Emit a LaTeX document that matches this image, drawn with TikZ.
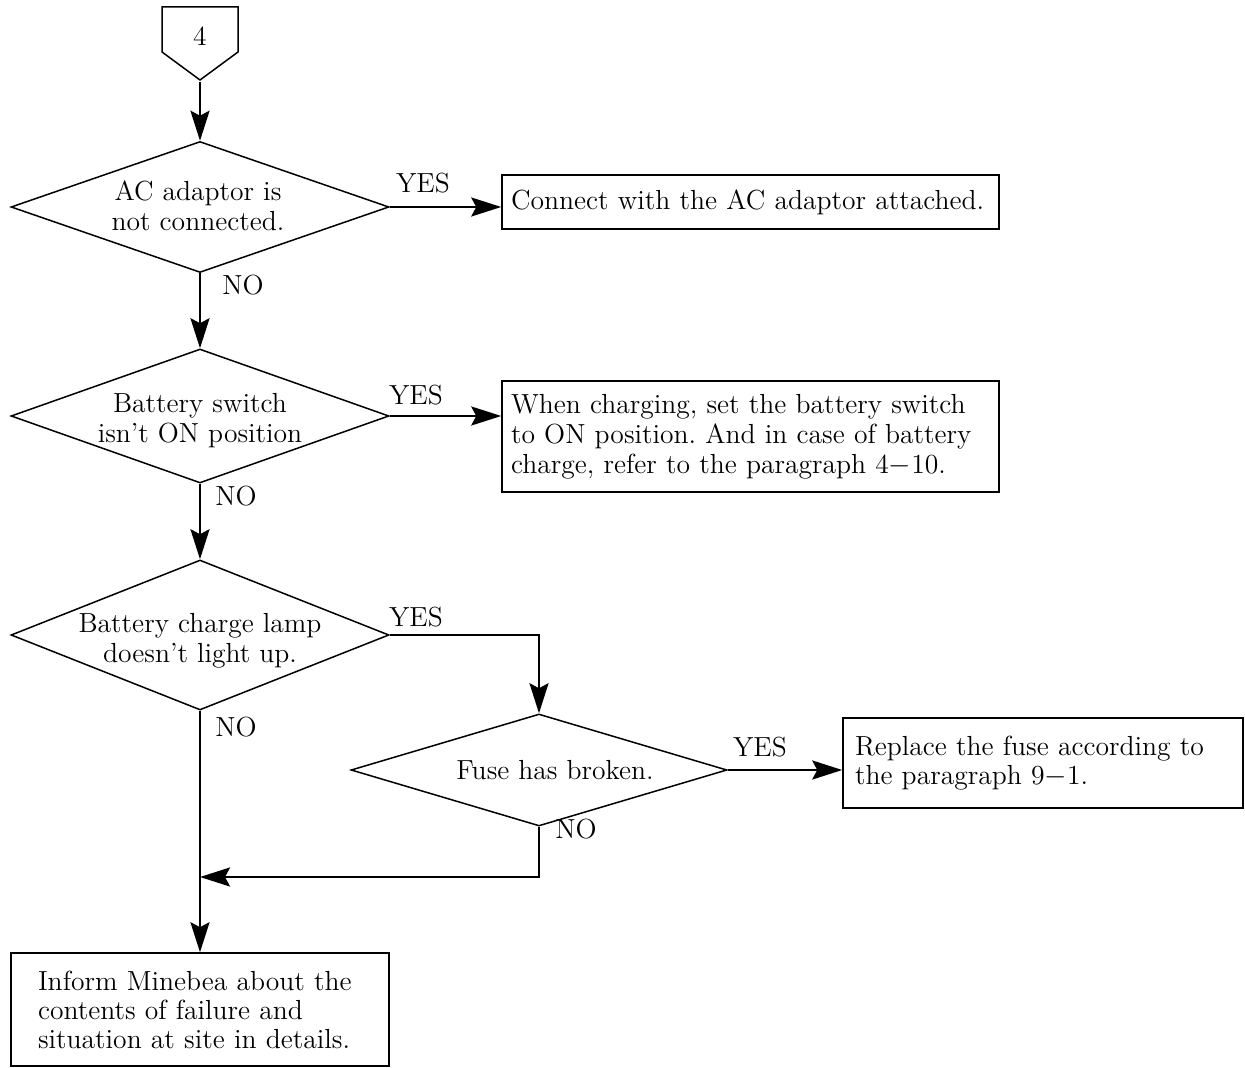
\documentclass[tikz,border=0pt]{standalone}
\usetikzlibrary{shapes.geometric,arrows.meta}
\begin{document}
\frenchspacing
\begin{tikzpicture}[x=0.5pt,y=-0.5pt,
  font=\fontsize{13.8}{15}\selectfont,
  dia/.style={diamond, draw, line width=0.75pt, inner sep=0pt},
  box/.style={rectangle, draw, line width=0.75pt, inner ysep=0pt, align=left},
  arr/.style={line width=1.3pt, -{Stealth[length=15pt,width=9.5pt,inset=2.5pt]}},
  lbl/.style={inner sep=0pt}]
\useasboundingbox (0,0) rectangle (1245,1068);
% off-page connector
\draw[line width=0.75pt] (162,7) -- (238,7) -- (238,52) -- (200,80) -- (162,52) -- cycle;
\node[lbl] (n4) at (200,36) {4};
\coordinate (p4tip) at (200,82);
% decisions
\node[dia, minimum width=189pt, minimum height=65.5pt] (d1) at (200,207) {};
\node[align=center, inner sep=0pt] at (198,206) {AC adaptor is\\not connected.};
\node[dia, minimum width=189pt, minimum height=67pt] (d2) at (200,416) {};
\node[align=center, inner sep=0pt] at (200,421) {Battery switch\\isn't ON position};
\node[dia, minimum width=189pt, minimum height=75pt] (d3) at (200,635) {};
\node[align=center, inner sep=0pt] at (200,641) {Battery charge lamp\\doesn't light up.};
\node[dia, minimum width=188pt, minimum height=56pt] (d4) at (539,770) {};
\node[inner sep=0pt] at (555,770) {Fuse has broken.};
% boxes
\node[box, minimum width=248.5pt, minimum height=27pt, inner xsep=4.5pt, text width=239.5pt] (b1) at (750.5,202)
  {Connect with the AC adaptor attached.};
\node[box, minimum width=248.5pt, minimum height=55.5pt, inner xsep=4.5pt, text width=239.5pt] (b2) at (750.5,436.5)
  {When charging, set the battery switch\\to ON position. And in case of battery\\charge, refer to the paragraph 4$-$10.};
\node[box, minimum width=200pt, minimum height=45pt, inner xsep=6pt, text width=188pt, font=\fontsize{13.8}{14.5}\selectfont] (b3) at (1043,763)
  {Replace the fuse according to\\the paragraph 9$-$1.};
\node[box, minimum width=189pt, minimum height=56.5pt, inner xsep=13.5pt, text width=162pt, font=\fontsize{13.8}{14.5}\selectfont] (b4) at (200,1009.5)
  {Inform Minebea about the\\contents of failure and\\situation at site in details.};
% connectors
\coordinate (m) at (200,877);
\draw[arr] (p4tip) -- (d1.north);
\draw[arr] (d1.east) -- (d1.east -| b1.west);
\draw[arr] (d1.south) -- (d2.north);
\draw[arr] (d2.east) -- (d2.east -| b2.west);
\draw[arr] (d2.south) -- (d3.north);
\draw[arr] (d3.east) -| (d4.north);
\draw[arr] (d4.east) -- (d4.east -| b3.west);
\draw[arr] (d4.south) |- (m);
\draw[arr] (d3.south) -- (b4.north);
% labels
\node[lbl] at (423,183) {YES};
\node[lbl] at (243,285) {NO};
\node[lbl] at (416,395) {YES};
\node[lbl] at (236,496) {NO};
\node[lbl] at (416,617) {YES};
\node[lbl] at (236,727) {NO};
\node[lbl] at (760,747) {YES};
\node[lbl] at (576,829) {NO};
\end{tikzpicture}
\end{document}
